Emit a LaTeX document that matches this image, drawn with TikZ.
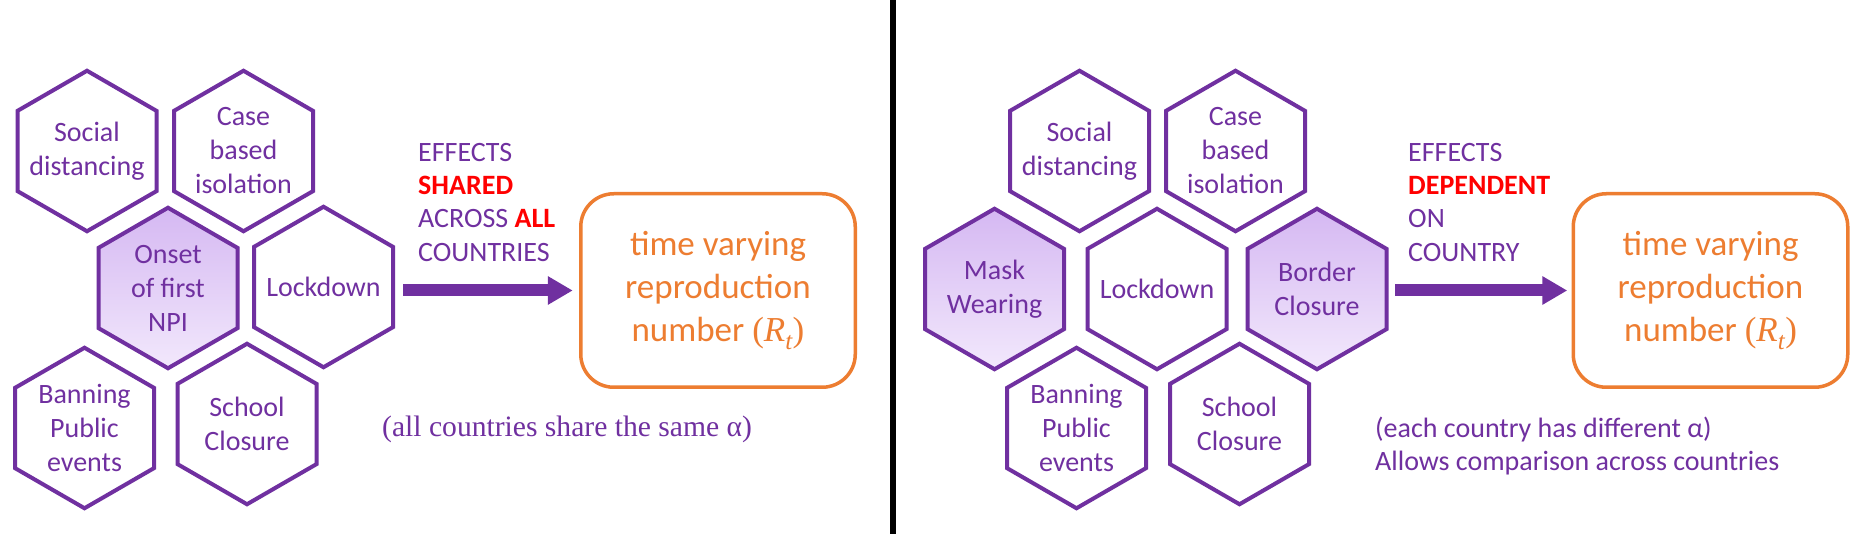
\documentclass[tikz,border=0pt]{standalone}
\usepackage{fontspec}
\setmainfont{Carlito}
\newfontfamily\capserif{Liberation Serif}
\usetikzlibrary{shapes.geometric,arrows.meta}
\definecolor{npurple}{HTML}{7030A0}
\definecolor{norange}{HTML}{ED7D31}
\definecolor{nred}{HTML}{FF0000}
\definecolor{hextop}{RGB}{213,184,242}
\definecolor{hexbot}{RGB}{242,232,252}
\newcommand{\rtsym}{{\capserif(\textit{R}\raisebox{-0.22em}{\fontsize{25}{25}\selectfont\textit{t}})}}
\begin{document}
\begin{tikzpicture}[x=1pt,y=-1pt,
  hex/.style={regular polygon, regular polygon sides=6, regular polygon rotate=30,
    minimum size=160.5pt, inner sep=0pt, outer sep=0pt, draw=npurple, line width=4pt, fill=white},
  hexf/.style={hex, top color=hextop, bottom color=hexbot},
  htext/.style={text=npurple, font=\fontsize{28}{34}\selectfont, align=center, inner sep=0pt},
  rbox/.style={draw=norange, line width=3.5pt, rounded corners=33pt, minimum width=274.5pt,
    minimum height=193.5pt, inner sep=0pt, outer sep=0pt, text=norange,
    font=\fontsize{35}{42.7}\selectfont, align=center},
  efftext/.style={text=npurple, font=\fontsize{28}{33.3}\selectfont, align=left, inner sep=0pt, anchor=north west},
  captext/.style={text=npurple, font=\fontsize{28}{34}\selectfont, inner sep=0pt, anchor=base west},
  bigarrow/.style={draw=npurple, fill=npurple, line width=12pt, -{Triangle[length=25pt,width=27pt]}},
  divider/.style={line width=6pt, black}
]
\useasboundingbox (0,0) rectangle (1863,534);
\fill[white] (0,0) rectangle (1863,534);

% ---------- left panel ----------
\node[hex]  (sdL) at (87,151)   [label={[htext]center:{Social\\distancing}}] {};
\node[hex]  (cbL) at (243.5,151) [label={[htext]center:{Case\\based\\isolation}}] {};
\node[hexf] (onL) at (168,288)  [label={[htext]center:{Onset\\of first\\NPI}}] {};
\node[hex]  (lkL) at (323.5,287) [label={[htext]center:{Lockdown}}] {};
\node[hex]  (bpL) at (84.5,428) [label={[htext]center:{Banning\\Public\\events}}] {};
\node[hex]  (scL) at (247,424)  [label={[htext]center:{School\\Closure}}] {};

\node[efftext] (effL) at (418,143) {EFFECTS\\\textcolor{nred}{\textbf{SHARED}}\\ACROSS \textcolor{nred}{\textbf{ALL}}\\COUNTRIES};
\node[rbox] (bxL) at (718,290.5) {time varying\\reproduction\\number \rtsym};
\draw[bigarrow, shorten <=10pt, shorten >=8pt] (lkL.east |- bxL.west) -- (bxL.west);
\node[captext, font=\capserif\fontsize{29.6}{34}\selectfont] (capL) at (382,436) {(all countries share the same α)};

% ---------- divider ----------
\coordinate (divT) at (893,0);
\coordinate (divB) at (893,534);
\draw[divider] (divT) -- (divB);

% ---------- right panel ----------
\node[hex]  (sdR) at (1079.5,151) [label={[htext]center:{Social\\distancing}}] {};
\node[hex]  (cbR) at (1235.5,151) [label={[htext]center:{Case\\based\\isolation}}] {};
\node[hexf] (mwR) at (994.5,289)  [label={[htext]center:{Mask\\Wearing}}] {};
\node[hex]  (lkR) at (1157,289)   [label={[htext]center:{Lockdown}}] {};
\node[hexf] (brR) at (1317,289)   [label={[htext]center:{Border\\Closure}}] {};
\node[hex]  (bpR) at (1076.5,428) [label={[htext]center:{Banning\\Public\\events}}] {};
\node[hex]  (scR) at (1239.5,424) [label={[htext]center:{School\\Closure}}] {};

\node[efftext] (effR) at (1408,143) {EFFECTS\\\textcolor{nred}{\textbf{DEPENDENT}}\\ON\\COUNTRY};
\node[rbox] (bxR) at (1710.5,290.5) {time varying\\reproduction\\number \rtsym};
\draw[bigarrow, shorten <=8.5pt, shorten >=6pt] (brR.east |- bxR.west) -- (bxR.west);
\node[captext] (capR1) at (1375,437) {(each country has different α)};
\node[captext] (capR2) at (1375,470) {Allows comparison across countries};
\end{tikzpicture}
\end{document}
